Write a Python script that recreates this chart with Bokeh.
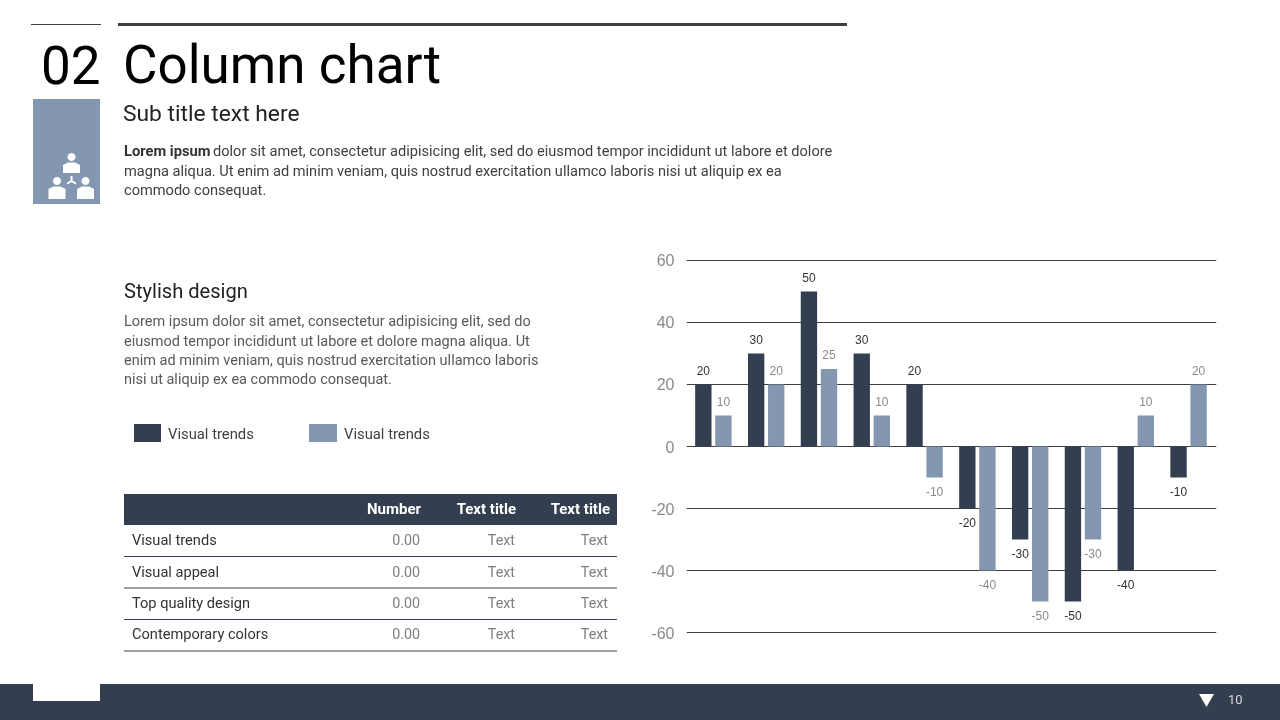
from bokeh.plotting import figure
from bokeh.models import ColumnDataSource, FactorRange, Range1d, FixedTicker
from bokeh.transform import dodge
from bokeh.core.properties import value
from bokeh.embed import file_html
from bokeh.resources import INLINE
import numpy as np

categories = ["1", "2", "3", "4", "5", "6", "7", "8", "9", "10"]
series_dark = [20, 30, 50, 30, 20, -20, -30, -50, -40, -10]
series_light = [10, 20, 25, 10, -10, -40, -50, -30, 10, 20]
y_ticks = [-60, -40, -20, 0, 20, 40, 60]
table_rows = ["Visual trends", "Visual appeal", "Top quality design", "Contemporary colors"]
table_head = ["Number", "Text title", "Text title"]
table_cells = ["0.00", "Text", "Text"]

DARK = "#333F50"
LIGHT = "#8497B0"
FONT = "Roboto"
W, H = 1280, 720
L, R, T, B = 686, 1216, 258, 634

# page layer
bg = figure(width=W + 2, height=H, x_range=Range1d(-0.5, W + 1.5), y_range=Range1d(H + 0.5, 0.5),
            x_axis_type=None, y_axis_type=None, output_backend="svg", toolbar_location=None,
            min_border=0, min_border_left=0, min_border_right=0, min_border_top=0, min_border_bottom=0)
bg.styles = {"position": "fixed", "left": "-1px", "top": "0"}
bg.outline_line_color = None
bg.grid.visible = False


def box(x0, y0, x1, y1, color):
    bg.quad(left=[x0], right=[x1], top=[y0], bottom=[y1], fill_color=color, line_color=None)


def poly(xs, ys, color="#FFFFFF"):
    bg.patch(list(xs), list(ys), fill_color=color, line_color=None)


def text(x, y, s, size, color="#333333", style="normal", align="left", font=FONT):
    bg.text(x=[x], y=[y - 0.36 * size], text=[s], text_font=value(font), text_font_size=f"{size}px",
            text_color=color, text_font_style=style, text_align=align, text_baseline="alphabetic")


# header decoration
box(31, 24, 101, 25, "#404040")
box(118, 23, 847, 26, "#404040")
box(33, 99, 100, 204, LIGHT)
text(41, 84, "02", 53, "#000000")
text(123, 84, "Column chart", 53, "#000000")
text(123, 121.5, "Sub title text here", 22.8, "#222222")
text(124, 156.5, "Lorem ipsum", 14.7, "#333333", "bold")
text(213, 156.5, "dolor sit amet, consectetur adipisicing  elit, sed do eiusmod tempor incididunt ut labore et dolore", 14.6, "#404040")
text(124, 176, "magna aliqua. Ut enim ad minim veniam, quis nostrud exercitation ullamco laboris nisi ut aliquip ex ea", 14.6, "#404040")
text(124, 195.5, "commodo consequat.", 14.6, "#404040")

# icon


def circle(cx, cy, r):
    a = np.linspace(0, 2 * np.pi, 24, endpoint=False)
    poly(cx + r * np.cos(a), cy + r * np.sin(a))


for cx, cy, bottom in [(71.5, 157, 173), (57, 181, 199), (85.5, 181, 199)]:
    circle(cx, cy, 4)
    poly([cx - 8.5, cx - 8.5, cx - 3.5, cx + 3.5, cx + 8.5, cx + 8.5],
         [bottom, cy + 8, cy + 5.5, cy + 5.5, cy + 8, bottom])
poly([70.5, 72.5, 72.5, 76.5, 75.5, 71.5, 67.5, 66.5, 70.5], [176, 176, 180.5, 183, 184.5, 182, 184.5, 183, 180.5])

# left text
text(124, 298, "Stylish design", 20.1, "#222222")
for yy, s in zip([327, 346.5, 366, 385], [
    "Lorem ipsum dolor sit amet, consectetur adipisicing  elit, sed do",
    "eiusmod tempor incididunt ut labore et dolore magna aliqua. Ut",
    "enim ad minim veniam, quis nostrud exercitation ullamco  laboris",
    "nisi ut aliquip ex ea commodo  consequat.",
]):
    text(124, yy, s, 14.5, "#595959")

# legend
box(134, 424, 161, 442, DARK)
box(309, 424, 337, 442, LIGHT)
text(168, 439, "Visual trends", 14.8, "#404040")
text(344, 439, "Visual trends", 14.8, "#404040")

# table
box(124, 494, 617, 525, DARK)
for xr, s in zip([421, 516, 610], table_head):
    text(xr, 514.5, s, 15, "#FFFFFF", "bold", "right")
for yy, s in zip([545, 577, 608, 639], table_rows):
    text(132, yy, s, 14.6, "#333333")
    for xr, c in zip([420, 515, 608], table_cells):
        text(xr, yy, c, 14.3, "#7F7F7F", "normal", "right")
box(124, 556, 617, 557, "#333F50")
box(124, 587, 617, 589, "#A0A0A0")
box(124, 619, 617, 620, "#333F50")
box(124, 650, 617, 652, "#A0A0A0")

# footer
box(-2, 684, 1282, 722, DARK)
box(33, 684, 100, 701, "#FFFFFF")
poly([1199, 1214, 1206.5], [694, 694, 707])
text(1228, 704, "10", 13, "#D9D9D9")

# chart layer
p = figure(width=W, height=H, x_range=FactorRange(*categories, range_padding=0.0038), y_range=Range1d(-60.645, 60.645),
           output_backend="svg", toolbar_location=None,
           min_border_left=L, min_border_right=W - R, min_border_top=T, min_border_bottom=H - B)
p.styles = {"position": "fixed", "left": "0", "top": "0"}
p.background_fill_alpha = 0
p.border_fill_alpha = 0
p.outline_line_color = None
p.xaxis.visible = False
p.xgrid.visible = False
p.ygrid.ticker = FixedTicker(ticks=y_ticks)
p.ygrid.grid_line_color = "#404040"
p.ygrid.grid_line_width = 1
ax = p.yaxis[0]
ax.ticker = FixedTicker(ticks=y_ticks)
ax.major_label_overrides = {t: str(t) for t in y_ticks}
ax.axis_line_color = None
ax.major_tick_line_color = None
ax.minor_tick_line_color = None
ax.major_label_standoff = 6
ax.major_label_text_color = "#8A8A8A"
ax.major_label_text_font = "Liberation Sans"
ax.major_label_text_font_size = "16px"
ax.major_label_text_font_style = "normal"

src = ColumnDataSource(dict(
    cat=categories, dark=series_dark, light=series_light,
    dark_lab=[str(v) for v in series_dark], light_lab=[str(v) for v in series_light],
    dark_off=[-14 if v > 0 else 14 for v in series_dark],
    light_off=[-14 if v > 0 else 14 for v in series_light],
))
p.vbar(x=dodge("cat", -0.2, range=p.x_range), top="dark", bottom=0, width=0.31, source=src,
       fill_color=DARK, line_color=None)
p.vbar(x=dodge("cat", 0.18, range=p.x_range), top="light", bottom=0, width=0.31, source=src,
       fill_color=LIGHT, line_color=None)
p.text(x=dodge("cat", -0.2, range=p.x_range), y="dark", text="dark_lab", y_offset="dark_off", source=src,
       text_font=value("Liberation Sans"), text_font_size="12px", text_color="#333333",
       text_align="center", text_baseline="middle")
p.text(x=dodge("cat", 0.18, range=p.x_range), y="light", text="light_lab", y_offset="light_off", source=src,
       text_font=value("Liberation Sans"), text_font_size="12px", text_color="#8A8A8A",
       text_align="center", text_baseline="middle")

open("out.html", "w").write(file_html((bg, p), INLINE))
